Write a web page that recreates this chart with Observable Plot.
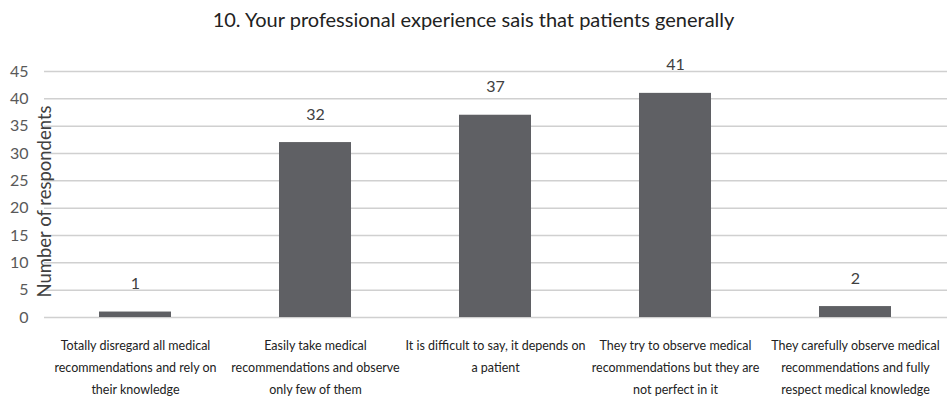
<!DOCTYPE html>
<html>
<head>
<meta charset="utf-8">
<script src="https://cdn.jsdelivr.net/npm/d3@7"></script>
<script src="https://cdn.jsdelivr.net/npm/@observablehq/plot@0.6"></script>
<style>
  html, body { margin: 0; padding: 0; background: #fff; }
  body { width: 947px; height: 400px; overflow: hidden; font-family: Lato, "Open Sans", sans-serif; }
  #title { height: 36px; line-height: 38px; text-align: center; font-size: 20px; color: #222; }
  #chart svg { display: block; }
</style>
</head>
<body>
<div id="title">10. Your professional experience sais that patients generally</div>
<div id="chart"></div>
<script>
const categories = [
  "Totally disregard all medical\nrecommendations and rely on\ntheir knowledge",
  "Easily take medical\nrecommendations and observe\nonly few of them",
  "It is difficult to say, it depends on\na patient",
  "They try to observe medical\nrecommendations but they are\nnot perfect in it",
  "They carefully observe medical\nrecommendations and fully\nrespect medical knowledge"
];
const values = [1, 32, 37, 41, 2];
const yTicks = [0, 5, 10, 15, 20, 25, 30, 35, 40, 45];
const yLabel = "Number of respondents";

const data = categories.map((c, i) => ({category: c, value: values[i]}));

const plot = Plot.plot({
  width: 947,
  height: 364,
  marginLeft: 44,
  marginRight: 0,
  marginTop: 35,
  marginBottom: 83,
  style: {fontFamily: "Lato, 'Open Sans', sans-serif", background: "#fff"},
  x: {domain: categories, paddingInner: 0.6, paddingOuter: 0.3, axis: null},
  y: {domain: [0, 45], ticks: yTicks, axis: null},
  marks: [
    Plot.ruleY(yTicks, {stroke: "#d0d0d0", strokeWidth: 1.5}),
    Plot.axisY(yTicks, {tickSize: 0, tickPadding: 16, fontSize: 16, color: "#595959", label: null}),
    Plot.barY(data, {x: "category", y: "value", fill: "#5f6064"}),
    Plot.text(data, {x: "category", y: "value", text: d => String(d.value), dy: -28, fontSize: 16, fill: "#404040"}),
    Plot.text(data, {x: "category", text: "category", frameAnchor: "bottom", lineAnchor: "top", lineHeight: 1.76, dy: 17, fontSize: 12.5, fill: "#222"}),
    Plot.text([yLabel], {text: d => d, frameAnchor: "left", textAnchor: "middle", rotate: -90, dx: 1, dy: 7, fontSize: 18.5, fill: "#404040"})
  ]
});
document.getElementById("chart").append(plot);
</script>
</body>
</html>
